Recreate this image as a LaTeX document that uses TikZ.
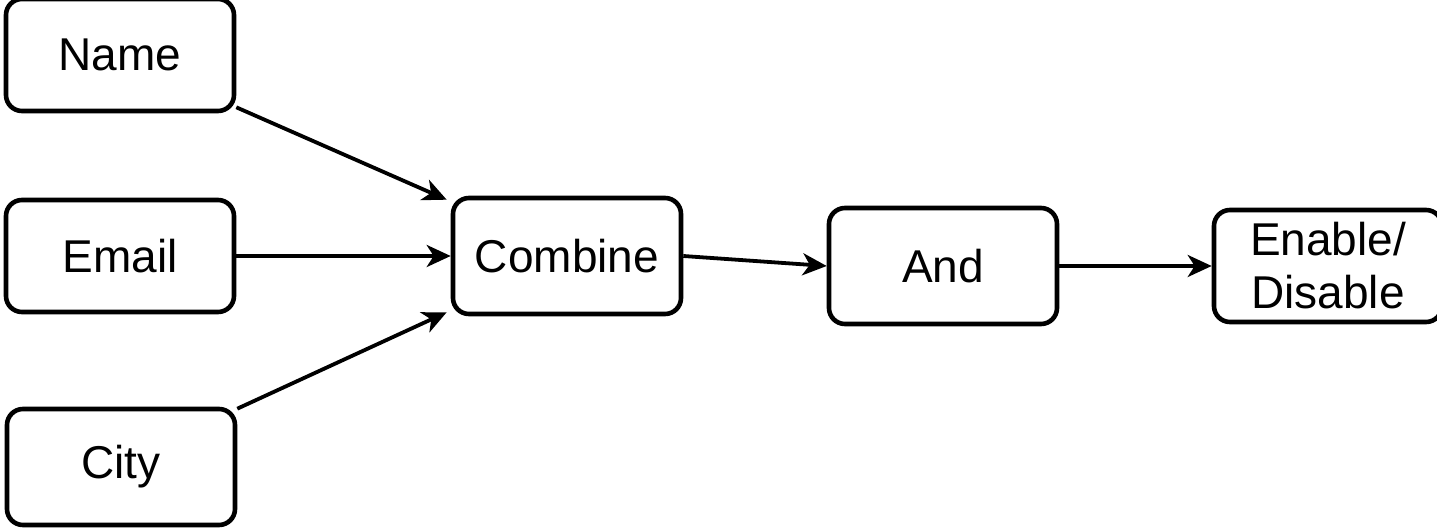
\documentclass[tikz,border=0pt]{standalone}
\usepackage{fontspec}
\setmainfont{Liberation Sans}
\usepackage{tikz}
\usetikzlibrary{positioning,arrows.meta}

\begin{document}
\begin{tikzpicture}[
        x=0.5pt, y=-0.5pt,
        box/.style={
            draw, line width=2.3pt, rounded corners=8pt, minimum width=114pt,
            minimum height=56pt, align=center, inner sep=0pt,
            font=\fontsize{23}{26.5}\selectfont
        },
        flow/.style={-{Stealth[length=12pt, width=11pt, inset=3.5pt]}, line width=1.9pt}
    ]
        \useasboundingbox (0,0) rectangle (1437,529);
        \node[box] (name) at (120,55) {Name};
        \node[box] (email) at (120,256) {Email};
        \node[box, minimum height=58pt] (city) at (121,467) {City};
        \node[box, minimum height=58pt] (combine) at (567,256) {Combine};
        \node[box, minimum height=58pt] (and) at (943,266) {And};
        \node[box] (enable) at (1328,266) {Enable/\\Disable};
        \draw[flow] ([yshift=3pt]name.south east) -- ([shift={(-2pt,-2pt)}]combine.north west);
        \draw[flow] (email) -- (combine);
        \draw[flow] ([yshift=-1pt]city.north east) -- ([shift={(-2pt,2pt)}]combine.south west);
        \draw[flow] (combine.east) -- (and.west);
        \draw[flow] (and) -- (enable);
    \end{tikzpicture}
\end{document}
